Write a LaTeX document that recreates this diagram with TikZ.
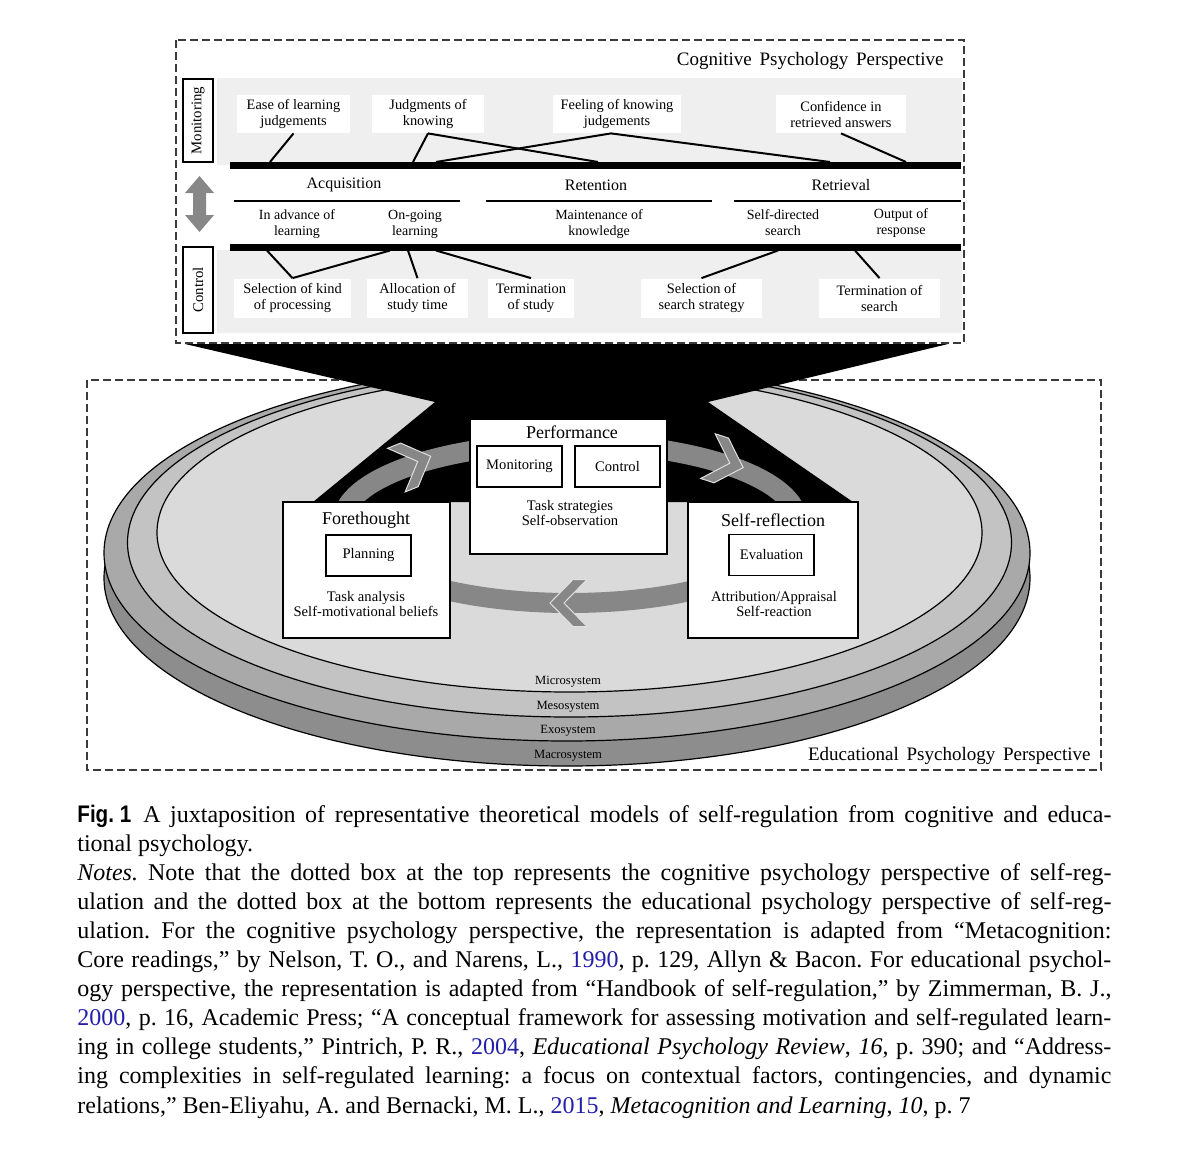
\documentclass[tikz,border=0pt]{standalone}
\usepackage{fontspec}
\setmainfont{Liberation Serif}
\newfontfamily\figsans{Liberation Sans}
\usepackage{graphicx}
\usetikzlibrary{calc}
\definecolor{boxgray}{HTML}{EFEFEF}
\definecolor{micro}{HTML}{DADADA}
\definecolor{meso}{HTML}{C3C3C3}
\definecolor{exo}{HTML}{A9A9A9}
\definecolor{macro}{HTML}{8D8D8D}
\definecolor{band}{HTML}{878787}
\definecolor{arrowgray}{HTML}{878787}
\definecolor{dashgray}{HTML}{3A3A3A}
\definecolor{yearblue}{RGB}{35,31,170}
\frenchspacing
\begin{document}
\begin{tikzpicture}[x=0.5pt,y=-0.5pt,
  persp/.style={dashgray, line width=0.75pt, dash pattern=on 4pt off 2pt},
  wlbl/.style={fill=white, inner sep=0pt, align=center, font=\fontsize{7.2}{8}\selectfont},
  head/.style={font=\fontsize{8}{9}\selectfont, inner sep=0pt},
  sub/.style={align=center, font=\fontsize{7}{8}\selectfont, inner sep=0pt},
  sidebox/.style={draw, fill=white, line width=0.6pt, rotate=90, inner sep=0pt, font=\fontsize{7.4}{8}\selectfont, minimum height=15pt},
  conn/.style={line width=1pt},
  bigbox/.style={draw, fill=white, line width=0.6pt, inner sep=0pt},
  smallbox/.style={draw, fill=white, line width=0.6pt, inner sep=0pt, minimum width=42.5pt, minimum height=20.5pt, font=\fontsize{7.3}{8}\selectfont},
  boxtitle/.style={font=\fontsize{9}{10}\selectfont, inner sep=0pt},
  body/.style={align=center, font=\fontsize{7.3}{7.8}\selectfont, inner sep=0pt},
  ringlbl/.style={font=\fontsize{6.3}{7}\selectfont, inner sep=0pt},
  perstitle/.style={font=\fontsize{9.5}{11}\selectfont, inner sep=0pt, anchor=base east},
  chev/.style={fill=band, draw=white!88!black, line width=0.5pt, line join=miter},
  capline/.style={anchor=base west, inner sep=0pt, font=\fontsize{12}{14.5}\selectfont},
  chevron/.pic={\path[chev] (18,0) -- (-5,23.5) -- (-19,23.5) -- (4,0) -- (-19,-23.5) -- (-5,-23.5) -- cycle;}
]
\useasboundingbox (0,0) rectangle (1200,1167);
\fill[white] (0,0) rectangle (1200,1167);

% ---------- lower (educational) box ----------
\draw[persp] (87,380) rectangle (1101,770);
\draw[fill=macro, line width=0.6pt] (567,578) ellipse [x radius=463, y radius=188];
\draw[fill=exo, line width=0.6pt] (567,553) ellipse [x radius=463, y radius=188];
\draw[fill=meso, line width=0.6pt] (569.5,542.5) ellipse [x radius=442, y radius=174.5];
\draw[fill=micro, line width=0.6pt] (569.5,532.5) ellipse [x radius=412.5, y radius=159.5];
\node[ringlbl] (rmicro) at (568,682) {Microsystem};
\node[ringlbl] (rmeso) at (568,707) {Mesosystem};
\node[ringlbl] (rexo) at (568,731) {Exosystem};
\node[ringlbl] (rmacro) at (568,756) {Macrosystem};

% funnel
\fill[black] (185,344) -- (435,402) -- (313,502) -- (853,502) -- (708,402) -- (948,344) -- cycle;

% cycle band
\draw[band, line width=10pt] (570,523) ellipse [x radius=228, y radius=80];
\pic[rotate=22] at (414,463) {chevron};
\pic[rotate=-18] at (726,462) {chevron};
\pic[rotate=180] at (568,603) {chevron};

% phase boxes
\node[bigbox, minimum width=98.5pt, minimum height=67.5pt] (perf) at (568.5,486.5) {};
\node[boxtitle] (perft) at (572,432) {Performance};
\node[smallbox] (mon2) at (519.5,466.5) {Monitoring};
\node[smallbox] (ctl2) at (617.5,466.5) {Control};
\node[body] (perfb) at (570,513) {Task strategies\\Self-observation};

\node[bigbox, minimum width=83.5pt, minimum height=68pt] (fore) at (366.5,570) {};
\node[boxtitle] (foret) at (366,520) {Forethought};
\node[smallbox] (plan) at (368.5,555.5) {Planning};
\node[body] (foreb) at (366,604) {Task analysis\\Self-motivational beliefs};

\node[bigbox, minimum width=85pt, minimum height=68pt] (selfr) at (773,570) {};
\node[boxtitle] (selfrt) at (773,520) {Self-reflection};
\node[smallbox] (eval) at (771.5,555) {Evaluation};
\node[body] (selfrb) at (774,604) {Attribution/Appraisal\\Self-reaction};

\node[perstitle] (edu) at (1091,760) {Educational\hspace{1.5pt} Psychology\hspace{1.5pt} Perspective};

% ---------- upper (cognitive) box ----------
\fill[boxgray] (217,78) rectangle (962,165);
\fill[boxgray] (217,250) rectangle (962,333);
\draw[persp] (176,40) rectangle (964,343);
\node[perstitle] (cog) at (944,65) {Cognitive\hspace{1.5pt} Psychology\hspace{1.5pt} Perspective};

\node[sidebox, minimum width=41.5pt] (monbox) at (198,120.5) {Monitoring};
\node[sidebox, minimum width=43pt] (ctlbox) at (198,290) {Control};
\fill[arrowgray] (199.5,176) -- (214,193) -- (206,193) -- (206,215) -- (214,215) -- (199.5,232) -- (185,215) -- (193,215) -- (193,193) -- (185,193) -- cycle;

% bars
\fill[black] (230,162) rectangle (961,169);
\fill[black] (230,243.5) rectangle (961,250.5);
\coordinate (tb1) at (270,162);
\coordinate (tb2) at (413,162);
\coordinate (tb3) at (598,162);
\coordinate (tb4) at (436,162);
\coordinate (tb5) at (830,162);
\coordinate (tb6) at (906,162);
\coordinate (bb1) at (267,250.5);
\coordinate (bb2) at (390,250.5);
\coordinate (bb3) at (408,250.5);
\coordinate (bb4) at (436,250.5);
\coordinate (bb5) at (778,250.5);
\coordinate (bb6) at (855,250.5);

% monitoring labels
\node[wlbl, minimum width=56.5pt, minimum height=19pt] (ease) at (293.5,114) {Ease of learning\\judgements};
\node[wlbl, minimum width=56pt, minimum height=19pt] (jok) at (428,114) {Judgments of\\knowing};
\node[wlbl, minimum width=64pt, minimum height=19pt] (fok) at (617,114) {Feeling of knowing\\judgements};
\node[wlbl, minimum width=65pt, minimum height=19pt] (conf) at (841,114) {Confidence in\\retrieved answers};
\draw[conn] (ease.south) -- (tb1);
\draw[conn] (jok.south) -- (tb2);
\draw[conn] (jok.south) -- (tb3);
\draw[conn] ($(fok.south)+(-6,0)$) -- (tb4);
\draw[conn] ($(fok.south)+(-6,0)$) -- (tb5);
\draw[conn] (conf.south) -- (tb6);

% headers
\node[head] (acq) at (344,185) {Acquisition};
\node[head] (ret) at (596,185) {Retention};
\node[head] (retr) at (841,185) {Retrieval};
\draw[line width=0.9pt] (234,201) -- (460,201);
\draw[line width=0.9pt] (486,201) -- (712,201);
\draw[line width=0.9pt] (734,201) -- (961,201);
\node[sub] (adv) at (297,224) {In advance of\\learning};
\node[sub] (ongo) at (415,224) {On-going\\learning};
\node[sub] (maint) at (599,224) {Maintenance of\\knowledge};
\node[sub] (sdir) at (783,223) {Self-directed\\search};
\node[sub] (outp) at (901,223) {Output of\\response};

% control labels
\node[wlbl, minimum width=58.5pt, minimum height=19.5pt] (sk) at (292.5,298) {Selection of kind\\of processing};
\node[wlbl, minimum width=50.5pt, minimum height=19.5pt] (alloc) at (417.5,298) {Allocation of\\study time};
\node[wlbl, minimum width=43pt, minimum height=19.5pt] (tstudy) at (531,298) {Termination\\of study};
\node[wlbl, minimum width=60.5pt, minimum height=19.5pt] (sss) at (701.5,298) {Selection of\\search strategy};
\node[wlbl, minimum width=60.5pt, minimum height=19.5pt] (tsearch) at (879.5,298) {Termination of\\search};
\draw[conn] (bb1) -- (sk.north);
\draw[conn] (bb2) -- (sk.north);
\draw[conn] (bb3) -- (alloc.north);
\draw[conn] (bb4) -- (tstudy.north);
\draw[conn] (bb5) -- (sss.north);
\draw[conn] (bb6) -- (tsearch.north);

% ---------- caption ----------
\node[capline] (c1) at (77,822) {\makebox[517pt][s]{\scalebox{0.86}[1]{\figsans\bfseries Fig. 1}\hspace{6pt}A juxtaposition of representative theoretical models of self-regulation from cognitive and educa-}};
\node[capline] (c2) at (77,851.1) {tional psychology.};
\node[capline] (c3) at (77,880.2) {\makebox[517pt][s]{\textit{Notes.} Note that the dotted box at the top represents the cognitive psychology perspective of self-reg-}};
\node[capline] (c4) at (77,909.3) {\makebox[517pt][s]{ulation and the dotted box at the bottom represents the educational psychology perspective of self-reg-}};
\node[capline] (c5) at (77,938.4) {\makebox[517pt][s]{ulation. For the cognitive psychology perspective, the representation is adapted from “Metacognition:}};
\node[capline] (c6) at (77,967.5) {\makebox[517pt][s]{Core readings,” by Nelson, T. O., and Narens, L., \textcolor{yearblue}{1990}, p. 129, Allyn \& Bacon. For educational psychol-}};
\node[capline] (c7) at (77,996.6) {\makebox[517pt][s]{ogy perspective, the representation is adapted from “Handbook of self-regulation,” by Zimmerman, B. J.,}};
\node[capline] (c8) at (77,1025.7) {\makebox[517pt][s]{\textcolor{yearblue}{2000}, p. 16, Academic Press; “A conceptual framework for assessing motivation and self-regulated learn-}};
\node[capline] (c9) at (77,1054.8) {\makebox[517pt][s]{ing in college students,” Pintrich, P. R., \textcolor{yearblue}{2004}, \textit{Educational Psychology Review}, \textit{16}, p. 390; and “Address-}};
\node[capline] (c10) at (77,1083.9) {\makebox[517pt][s]{ing complexities in self-regulated learning: a focus on contextual factors, contingencies, and dynamic}};
\node[capline] (c11) at (77,1113) {relations,” Ben-Eliyahu, A. and Bernacki, M. L., \textcolor{yearblue}{2015}, \textit{Metacognition and Learning}, \textit{10}, p. 7};
\end{tikzpicture}
\end{document}
